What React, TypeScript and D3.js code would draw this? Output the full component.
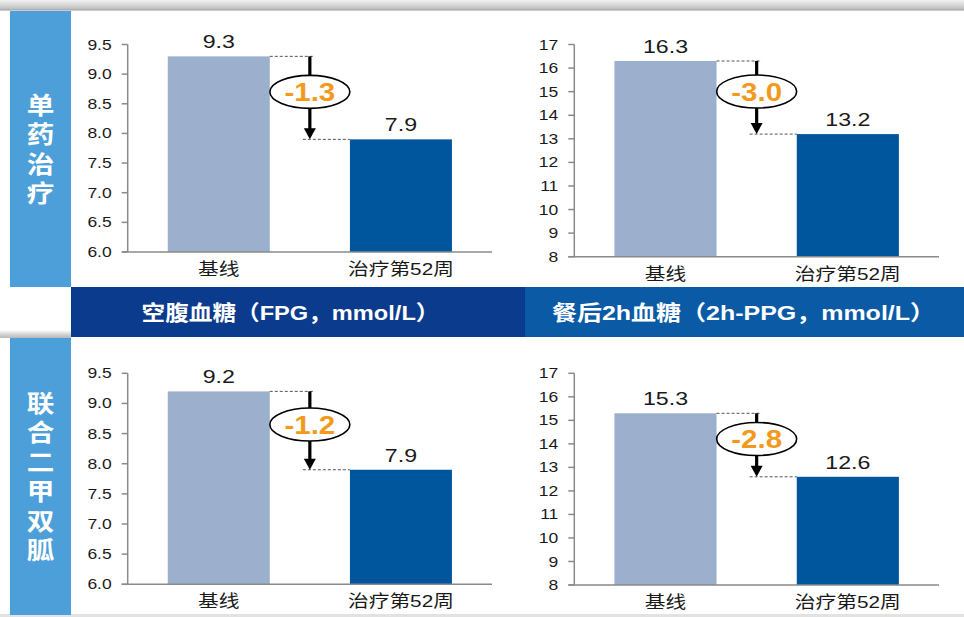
import React from 'react';
import * as d3 from 'd3';

// Glycaemic outcomes, baseline vs week 52
const categories = ['基线', '治疗第52周'];
const fpgMono = [9.3, 7.9];
const ppgMono = [16.3, 13.2];
const fpgCombo = [9.2, 7.9];
const ppgCombo = [15.3, 12.6];
const changeLabels = ['-1.3', '-3.0', '-1.2', '-2.8'];
const fpgTicks = [6.0, 6.5, 7.0, 7.5, 8.0, 8.5, 9.0, 9.5];
const ppgTicks = [8, 9, 10, 11, 12, 13, 14, 15, 16, 17];
const rowTitles = ['单药治疗', '联合二甲双胍'];
const bandTitles = ['空腹血糖（FPG，mmol/L）', '餐后2h血糖（2h-PPG，mmol/L）'];

const W = 964;
const H = 617;
const LATIN = '"Liberation Sans", Arial, "Noto Sans CJK SC", sans-serif';
const SX = 1.22; // horizontal stretch of the lettering

const C = {
  side: '#4c9fd9',
  bandL: '#0b3b8d',
  bandR: '#0a5aa6',
  base: '#9cb0cd',
  week: '#00569c',
  axis: '#8a8a8a',
  text: '#1a1a1a',
  orange: '#f39a1e',
};

type PanelProps = {
  values: number[];
  ticks: number[];
  change: string;
  x0: number;
  x1: number;
  top: number;
  bottom: number;
  fmt: (v: number) => string;
};

function Stretched({ x, y, children, size, anchor = 'middle', weight = 'normal', fill = C.text, family = LATIN, sx = SX, dy, style }: any) {
  return (
    <text
      transform={`translate(${x},${y}) scale(${sx},1)`}
      textAnchor={anchor}
      fontSize={size}
      fontWeight={weight}
      fill={fill}
      fontFamily={family}
      dy={dy}
      style={style}
    >
      {children}
    </text>
  );
}

function Panel({ values, ticks, change, x0, x1, top, bottom, fmt }: PanelProps) {
  const y = d3.scaleLinear().domain([ticks[0], ticks[ticks.length - 1]]).range([bottom, top]);
  const x = d3.scaleBand<string>().domain(categories).range([x0, x1]).paddingInner(0.44).paddingOuter(0.22);
  const bw = x.bandwidth();
  const b0 = x(categories[0])!;
  const b1 = x(categories[1])!;
  const yA = y(values[0]);
  const yB = y(values[1]);
  const ax = (b0 + bw + b1) / 2;
  const ey = (yA + yB) / 2 - 6;
  const rx = 40;
  const ry = 16.5;
  return (
    <g>
      {values.map((v, i) => (
        <rect
          key={i}
          x={x(categories[i])}
          y={y(v)}
          width={bw}
          height={bottom - y(v)}
          fill={i === 0 ? C.base : C.week}
        />
      ))}
      {/* axes */}
      <line x1={x0} x2={x0} y1={top} y2={bottom} stroke={C.axis} strokeWidth={1.5} />
      <line x1={x0 - 6} x2={x1} y1={bottom} y2={bottom} stroke={C.axis} strokeWidth={1.5} />
      {ticks.map((t) => (
        <g key={t}>
          <line x1={x0 - 6} x2={x0} y1={y(t)} y2={y(t)} stroke={C.axis} strokeWidth={1.5} />
          <Stretched x={x0 - 16} y={y(t)} size={14} anchor="end" dy="0.36em" sx={1.25}>
            {fmt(t)}
          </Stretched>
        </g>
      ))}
      {categories.map((c) => (
        <Stretched key={c} x={x(c)! + bw / 2} y={bottom + 23} size={17} sx={1.22}>
          {c}
        </Stretched>
      ))}
      {values.map((v, i) => (
        <Stretched key={'v' + i} x={x(categories[i])! + bw / 2} y={y(v) - 8} size={19}>
          {v.toFixed(1)}
        </Stretched>
      ))}
      {/* change indicator */}
      <line x1={b0 + bw} x2={ax + 5} y1={yA} y2={yA} stroke="#555" strokeWidth={1} strokeDasharray="3,2" />
      <line x1={ax - 7} x2={b1} y1={yB} y2={yB} stroke="#555" strokeWidth={1} strokeDasharray="3,2" />
      <line x1={ax} x2={ax} y1={yA} y2={yB - 9} stroke="#000" strokeWidth={3.2} />
      <path d={`M${ax - 6},${yB - 11}L${ax + 6},${yB - 11}L${ax},${yB}Z`} fill="#000" />
      <ellipse cx={ax} cy={ey} rx={rx} ry={ry} fill="#fff" stroke="#000" strokeWidth={1.6} />
      <Stretched x={ax} y={ey} size={25} weight="bold" fill={C.orange} dy="0.36em" sx={1.18}>
        {change}
      </Stretched>
    </g>
  );
}

export default function App() {
  const fmt1 = (v: number) => d3.format('.1f')(v);
  const fmt0 = (v: number) => d3.format('d')(v);
  const sideBoxes = [
    { y0: 11, y1: 287 },
    { y0: 338, y1: 615 },
  ];
  return (
    <svg width={W} height={H} style={{ position: 'absolute', left: 0, top: 0 }}>
      <defs>
        <linearGradient id="topShade" x1="0" y1="0" x2="0" y2="1">
          <stop offset="0" stopColor="#f2f2f2" />
          <stop offset="0.75" stopColor="#c4c4c4" />
          <stop offset="0.92" stopColor="#a6a6a6" />
          <stop offset="1" stopColor="#ffffff" />
        </linearGradient>
        <linearGradient id="midShade" x1="0" y1="0" x2="0" y2="1">
          <stop offset="0" stopColor="#ffffff" />
          <stop offset="0.6" stopColor="#d0d0d0" />
          <stop offset="1" stopColor="#b8b8b8" />
        </linearGradient>
      </defs>
      <rect x={0} y={0} width={W} height={H} fill="#fff" />
      <rect x={0} y={0} width={W} height={11} fill="url(#topShade)" />
      <rect x={0} y={330} width={71} height={8} fill="url(#midShade)" />
      <rect x={0} y={614} width={W} height={3} fill="#e2e2e2" />

      {/* row headers, set vertically */}
      {sideBoxes.map((b, i) => {
        const cy = (b.y0 + b.y1) / 2;
        const spacing = 5.5;
        return (
          <g key={i}>
            <rect x={10} y={b.y0} width={61} height={b.y1 - b.y0} fill={C.side} />
            <Stretched
              x={40.5}
              y={cy + spacing / 2}
              size={24}
              weight="bold"
              fill="#fff"
              family='"Noto Sans CJK SC", sans-serif'
              sx={1.15}
              style={{ writingMode: 'vertical-rl', textOrientation: 'upright', letterSpacing: `${spacing}px` }}
            >
              {rowTitles[i]}
            </Stretched>
          </g>
        );
      })}

      {/* measure band */}
      <rect x={71} y={287} width={454} height={50} fill={C.bandL} />
      <rect x={525} y={287} width={W - 525} height={50} fill={C.bandR} />
      <text
        x={141.5}
        y={320}
        fontSize={21}
        fontWeight="bold"
        fill="#fff"
        fontFamily={LATIN}
        textLength={298}
        lengthAdjust="spacingAndGlyphs"
      >
        {bandTitles[0]}
      </text>
      <text
        x={552}
        y={320}
        fontSize={21}
        fontWeight="bold"
        fill="#fff"
        fontFamily={LATIN}
        textLength={383}
        lengthAdjust="spacingAndGlyphs"
      >
        {bandTitles[1]}
      </text>

      <Panel values={fpgMono} ticks={fpgTicks} change={changeLabels[0]} x0={127.7} x1={492} top={44.5} bottom={252} fmt={fmt1} />
      <Panel values={ppgMono} ticks={ppgTicks} change={changeLabels[1]} x0={574.3} x1={939} top={44.5} bottom={256.7} fmt={fmt0} />
      <Panel values={fpgCombo} ticks={fpgTicks} change={changeLabels[2]} x0={127.7} x1={492} top={373.3} bottom={584.3} fmt={fmt1} />
      <Panel values={ppgCombo} ticks={ppgTicks} change={changeLabels[3]} x0={574.3} x1={939} top={373.3} bottom={585} fmt={fmt0} />
    </svg>
  );
}
